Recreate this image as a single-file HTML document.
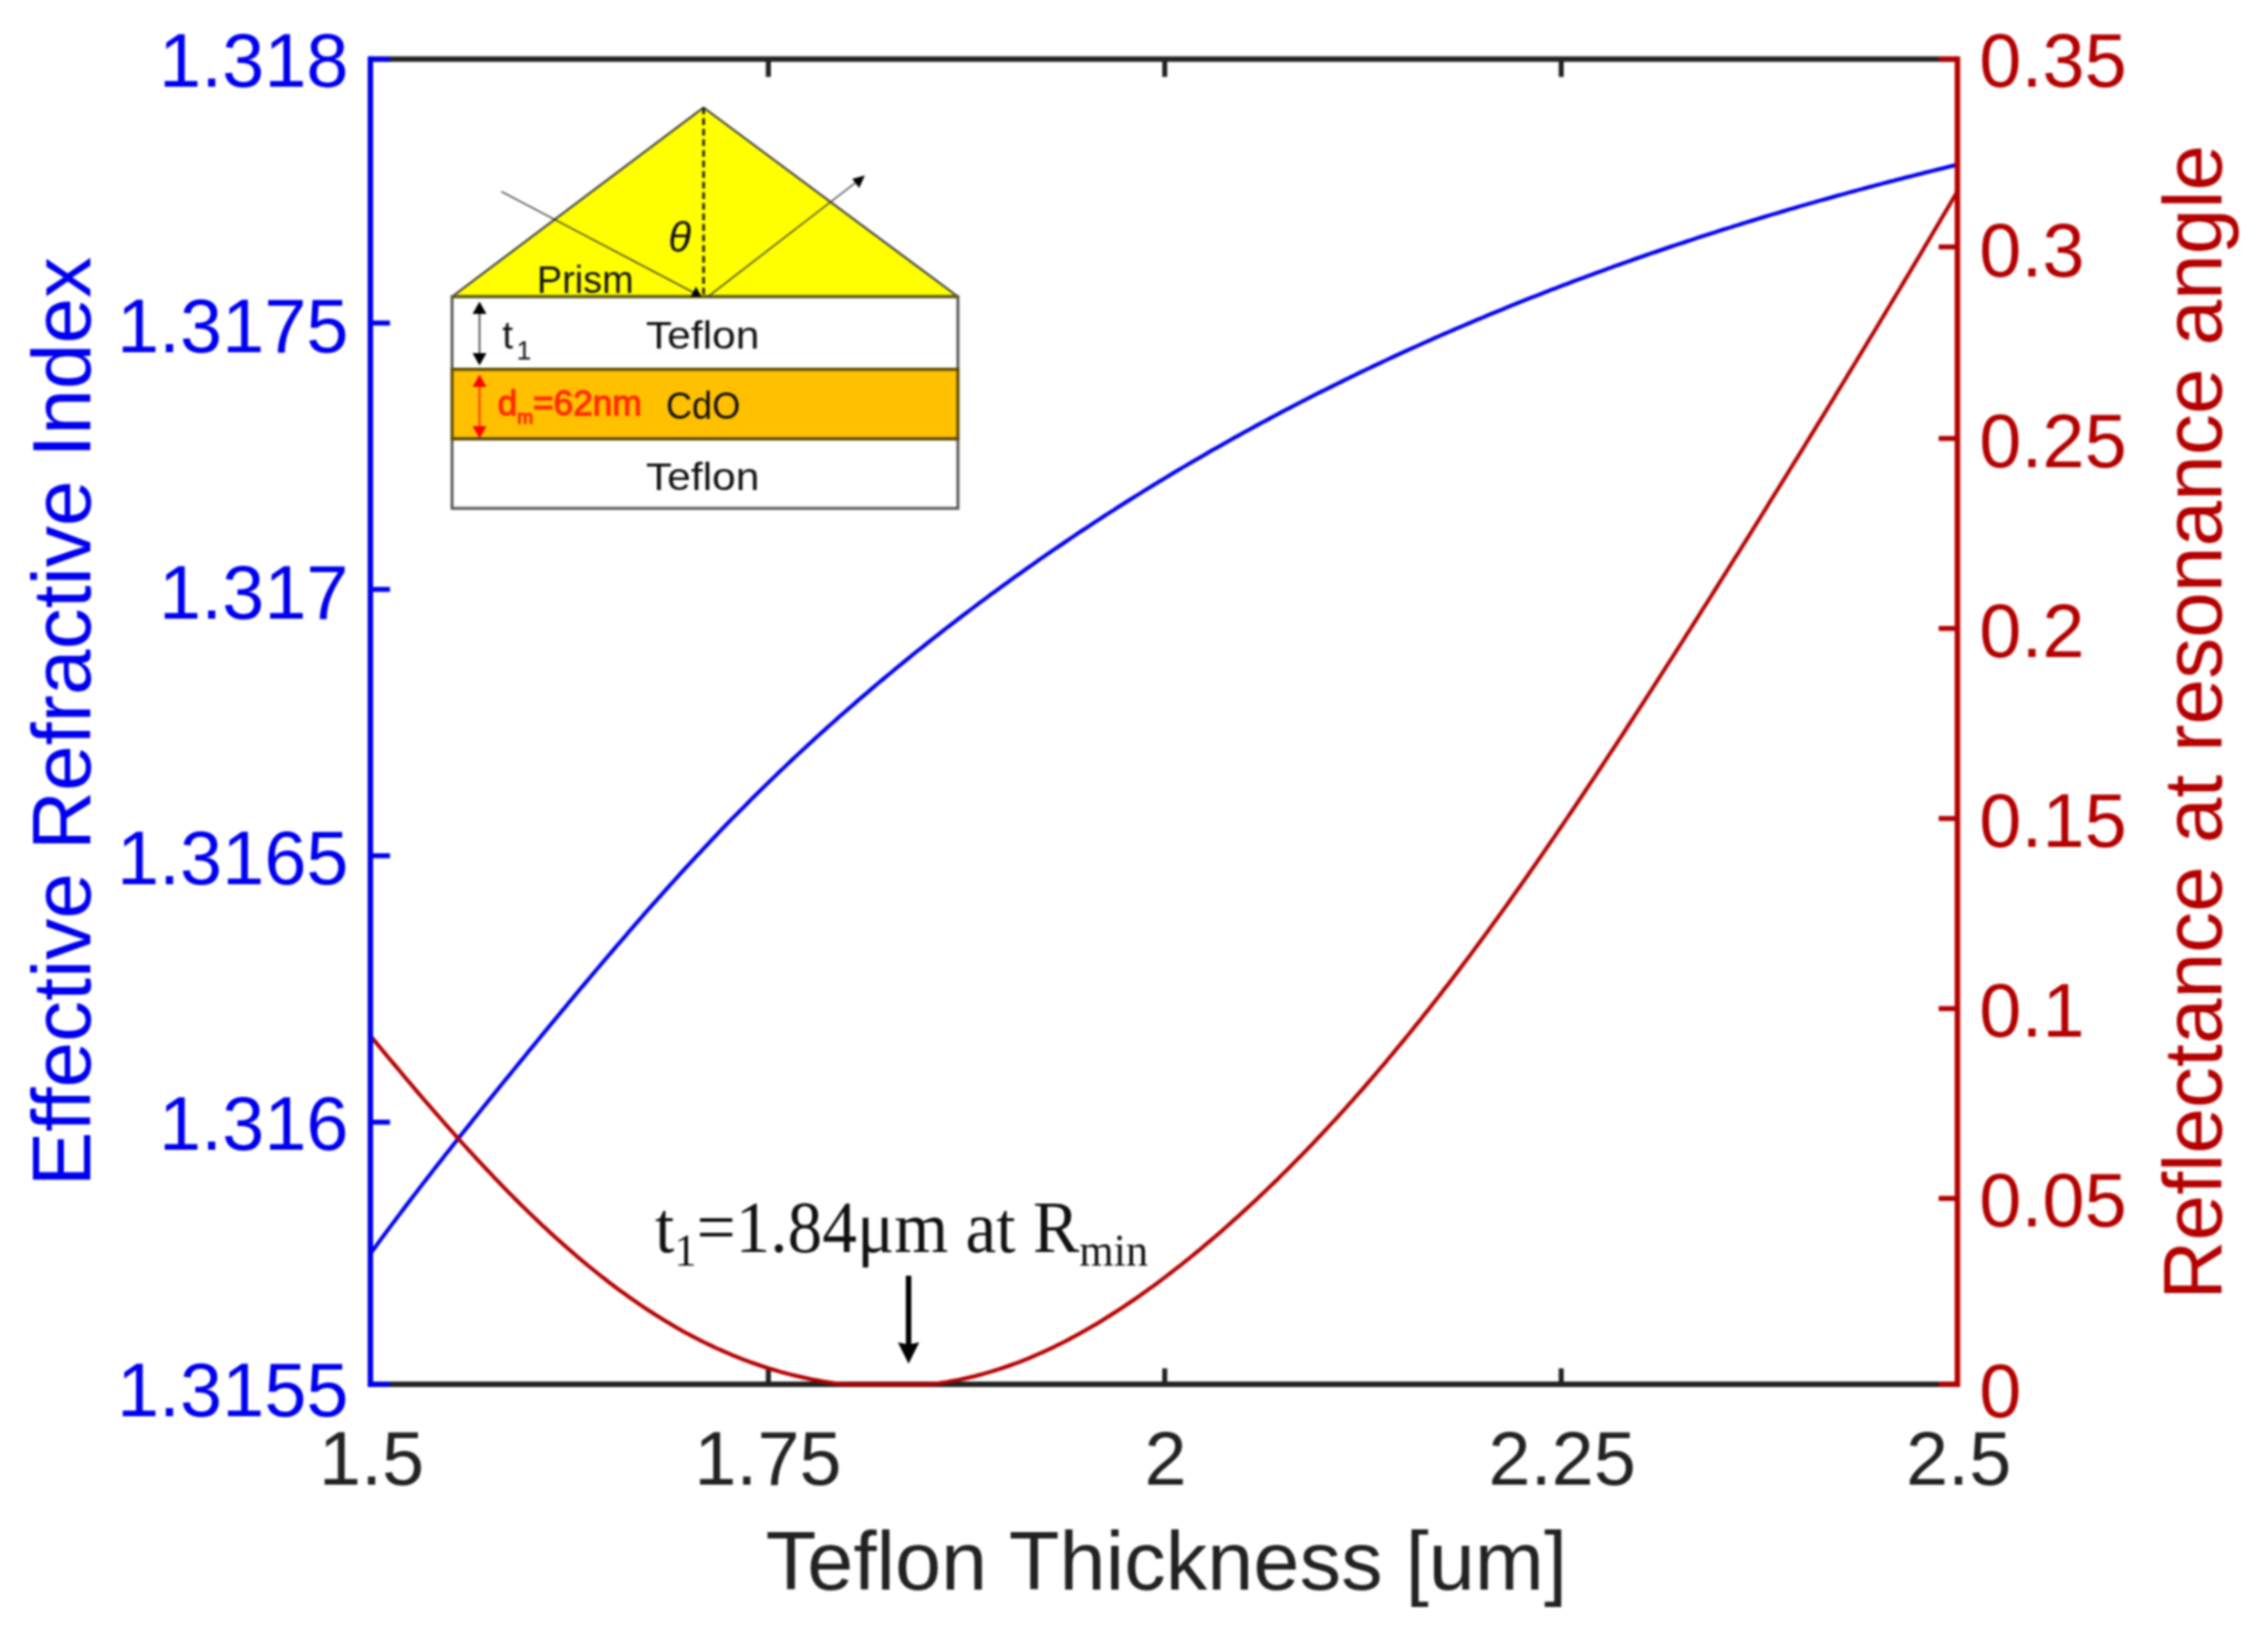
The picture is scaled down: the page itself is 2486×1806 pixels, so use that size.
<!DOCTYPE html><html><head><meta charset="utf-8"><title>Teflon thickness plot</title>
<style>html,body{margin:0;padding:0;background:#fff}svg{display:block;filter:blur(0.8px)}text{font-family:"Liberation Sans",sans-serif}.ser{font-family:"Liberation Serif",serif}</style></head><body>
<svg width="2486" height="1806" viewBox="0 0 2486 1806">
<rect width="2486" height="1806" fill="#fff"/>
<g stroke="#222222" stroke-width="6" fill="none">
<line x1="406.0" y1="64.8" x2="2145.6" y2="64.8"/><line x1="406.0" y1="1517.0" x2="2145.6" y2="1517.0"/>
<line x1="842.2" y1="64.8" x2="842.2" y2="84.3" stroke-width="5.5"/><line x1="842.2" y1="1517.0" x2="842.2" y2="1499.5" stroke-width="5.5"/>
<line x1="1276.7" y1="64.8" x2="1276.7" y2="84.3" stroke-width="5.5"/><line x1="1276.7" y1="1517.0" x2="1276.7" y2="1499.5" stroke-width="5.5"/>
<line x1="1711.3" y1="64.8" x2="1711.3" y2="84.3" stroke-width="5.5"/><line x1="1711.3" y1="1517.0" x2="1711.3" y2="1499.5" stroke-width="5.5"/>
</g>
<path d="M406.0,1374.1 L410.4,1368.1 L414.7,1362.1 L419.1,1356.1 L423.4,1350.2 L427.8,1344.3 L432.2,1338.5 L436.5,1332.7 L440.9,1326.9 L445.2,1321.1 L449.6,1315.4 L453.9,1309.7 L458.3,1304.0 L462.7,1298.3 L467.0,1292.7 L471.4,1287.1 L475.7,1281.5 L480.1,1275.9 L484.5,1270.3 L488.8,1264.8 L493.2,1259.3 L497.5,1253.8 L501.9,1248.3 L506.2,1242.8 L510.6,1237.3 L515.0,1231.8 L519.3,1226.4 L523.7,1221.0 L528.0,1215.5 L532.4,1210.1 L536.8,1204.7 L541.1,1199.3 L545.5,1193.9 L549.8,1188.5 L554.2,1183.2 L558.6,1177.8 L562.9,1172.5 L567.3,1167.1 L571.6,1161.8 L576.0,1156.5 L580.3,1151.1 L584.7,1145.8 L589.1,1140.5 L593.4,1135.2 L597.8,1129.9 L602.1,1124.6 L606.5,1119.4 L610.9,1114.1 L615.2,1108.8 L619.6,1103.6 L623.9,1098.4 L628.3,1093.1 L632.6,1087.9 L637.0,1082.7 L641.4,1077.5 L645.7,1072.3 L650.1,1067.2 L654.4,1062.0 L658.8,1056.9 L663.2,1051.7 L667.5,1046.6 L671.9,1041.5 L676.2,1036.4 L680.6,1031.3 L685.0,1026.3 L689.3,1021.2 L693.7,1016.2 L698.0,1011.2 L702.4,1006.2 L706.7,1001.2 L711.1,996.2 L715.5,991.3 L719.8,986.4 L724.2,981.5 L728.5,976.6 L732.9,971.7 L737.3,966.9 L741.6,962.1 L746.0,957.3 L750.3,952.5 L754.7,947.8 L759.1,943.0 L763.4,938.3 L767.8,933.7 L772.1,929.0 L776.5,924.4 L780.8,919.8 L785.2,915.2 L789.6,910.6 L793.9,906.1 L798.3,901.6 L802.6,897.1 L807.0,892.7 L811.4,888.3 L815.7,883.9 L820.1,879.5 L824.4,875.1 L828.8,870.8 L833.1,866.5 L837.5,862.2 L841.9,858.0 L846.2,853.7 L850.6,849.5 L854.9,845.3 L859.3,841.2 L863.7,837.0 L868.0,832.9 L872.4,828.8 L876.7,824.8 L881.1,820.7 L885.5,816.7 L889.8,812.7 L894.2,808.7 L898.5,804.7 L902.9,800.8 L907.2,796.9 L911.6,793.0 L916.0,789.1 L920.3,785.2 L924.7,781.4 L929.0,777.6 L933.4,773.8 L937.8,770.0 L942.1,766.2 L946.5,762.5 L950.8,758.8 L955.2,755.0 L959.5,751.4 L963.9,747.7 L968.3,744.0 L972.6,740.4 L977.0,736.8 L981.3,733.2 L985.7,729.6 L990.1,726.0 L994.4,722.5 L998.8,718.9 L1003.1,715.4 L1007.5,711.9 L1011.9,708.5 L1016.2,705.0 L1020.6,701.5 L1024.9,698.1 L1029.3,694.7 L1033.6,691.3 L1038.0,687.9 L1042.4,684.5 L1046.7,681.2 L1051.1,677.8 L1055.4,674.5 L1059.8,671.2 L1064.2,667.9 L1068.5,664.6 L1072.9,661.3 L1077.2,658.1 L1081.6,654.9 L1085.9,651.6 L1090.3,648.4 L1094.7,645.2 L1099.0,642.1 L1103.4,638.9 L1107.7,635.8 L1112.1,632.6 L1116.5,629.5 L1120.8,626.4 L1125.2,623.3 L1129.5,620.2 L1133.9,617.2 L1138.3,614.1 L1142.6,611.1 L1147.0,608.0 L1151.3,605.0 L1155.7,602.0 L1160.0,599.1 L1164.4,596.1 L1168.8,593.1 L1173.1,590.2 L1177.5,587.3 L1181.8,584.3 L1186.2,581.4 L1190.6,578.6 L1194.9,575.7 L1199.3,572.8 L1203.6,570.0 L1208.0,567.1 L1212.3,564.3 L1216.7,561.5 L1221.1,558.7 L1225.4,555.9 L1229.8,553.1 L1234.1,550.4 L1238.5,547.6 L1242.9,544.9 L1247.2,542.2 L1251.6,539.5 L1255.9,536.8 L1260.3,534.1 L1264.7,531.4 L1269.0,528.7 L1273.4,526.1 L1277.7,523.5 L1282.1,520.8 L1286.4,518.2 L1290.8,515.6 L1295.2,513.0 L1299.5,510.5 L1303.9,507.9 L1308.2,505.3 L1312.6,502.8 L1317.0,500.3 L1321.3,497.8 L1325.7,495.2 L1330.0,492.7 L1334.4,490.3 L1338.8,487.8 L1343.1,485.3 L1347.5,482.9 L1351.8,480.4 L1356.2,478.0 L1360.5,475.6 L1364.9,473.2 L1369.3,470.8 L1373.6,468.4 L1378.0,466.0 L1382.3,463.7 L1386.7,461.3 L1391.1,459.0 L1395.4,456.7 L1399.8,454.3 L1404.1,452.0 L1408.5,449.7 L1412.8,447.5 L1417.2,445.2 L1421.6,442.9 L1425.9,440.7 L1430.3,438.4 L1434.6,436.2 L1439.0,433.9 L1443.4,431.7 L1447.7,429.5 L1452.1,427.3 L1456.4,425.2 L1460.8,423.0 L1465.2,420.8 L1469.5,418.7 L1473.9,416.5 L1478.2,414.4 L1482.6,412.3 L1486.9,410.1 L1491.3,408.0 L1495.7,405.9 L1500.0,403.9 L1504.4,401.8 L1508.7,399.7 L1513.1,397.7 L1517.5,395.6 L1521.8,393.6 L1526.2,391.5 L1530.5,389.5 L1534.9,387.5 L1539.2,385.5 L1543.6,383.5 L1548.0,381.5 L1552.3,379.6 L1556.7,377.6 L1561.0,375.6 L1565.4,373.7 L1569.8,371.8 L1574.1,369.8 L1578.5,367.9 L1582.8,366.0 L1587.2,364.1 L1591.6,362.2 L1595.9,360.3 L1600.3,358.5 L1604.6,356.6 L1609.0,354.7 L1613.3,352.9 L1617.7,351.0 L1622.1,349.2 L1626.4,347.4 L1630.8,345.6 L1635.1,343.8 L1639.5,342.0 L1643.9,340.2 L1648.2,338.4 L1652.6,336.6 L1656.9,334.8 L1661.3,333.1 L1665.6,331.3 L1670.0,329.6 L1674.4,327.8 L1678.7,326.1 L1683.1,324.4 L1687.4,322.7 L1691.8,321.0 L1696.2,319.3 L1700.5,317.6 L1704.9,315.9 L1709.2,314.3 L1713.6,312.6 L1718.0,310.9 L1722.3,309.3 L1726.7,307.6 L1731.0,306.0 L1735.4,304.4 L1739.7,302.8 L1744.1,301.2 L1748.5,299.5 L1752.8,298.0 L1757.2,296.4 L1761.5,294.8 L1765.9,293.2 L1770.3,291.6 L1774.6,290.1 L1779.0,288.5 L1783.3,287.0 L1787.7,285.4 L1792.0,283.9 L1796.4,282.4 L1800.8,280.9 L1805.1,279.4 L1809.5,277.8 L1813.8,276.4 L1818.2,274.9 L1822.6,273.4 L1826.9,271.9 L1831.3,270.4 L1835.6,269.0 L1840.0,267.5 L1844.4,266.1 L1848.7,264.6 L1853.1,263.2 L1857.4,261.8 L1861.8,260.3 L1866.1,258.9 L1870.5,257.5 L1874.9,256.1 L1879.2,254.7 L1883.6,253.3 L1887.9,251.9 L1892.3,250.5 L1896.7,249.2 L1901.0,247.8 L1905.4,246.5 L1909.7,245.1 L1914.1,243.8 L1918.5,242.4 L1922.8,241.1 L1927.2,239.7 L1931.5,238.4 L1935.9,237.1 L1940.2,235.8 L1944.6,234.5 L1949.0,233.2 L1953.3,231.9 L1957.7,230.6 L1962.0,229.3 L1966.4,228.1 L1970.8,226.8 L1975.1,225.5 L1979.5,224.3 L1983.8,223.0 L1988.2,221.8 L1992.5,220.5 L1996.9,219.3 L2001.3,218.1 L2005.6,216.9 L2010.0,215.6 L2014.3,214.4 L2018.7,213.2 L2023.1,212.0 L2027.4,210.8 L2031.8,209.6 L2036.1,208.5 L2040.5,207.3 L2044.9,206.1 L2049.2,204.9 L2053.6,203.8 L2057.9,202.6 L2062.3,201.5 L2066.6,200.3 L2071.0,199.2 L2075.4,198.1 L2079.7,196.9 L2084.1,195.8 L2088.4,194.7 L2092.8,193.6 L2097.2,192.5 L2101.5,191.4 L2105.9,190.3 L2110.2,189.2 L2114.6,188.1 L2118.9,187.0 L2123.3,185.9 L2127.7,184.8 L2132.0,183.8 L2136.4,182.7 L2140.7,181.7 L2145.1,180.6" fill="none" stroke="#0000f0" stroke-width="4.3" stroke-linejoin="round"/>
<path d="M406.0,1135.1 L410.4,1140.4 L414.7,1145.6 L419.1,1150.9 L423.4,1156.1 L427.8,1161.3 L432.2,1166.5 L436.5,1171.7 L440.9,1176.9 L445.2,1182.1 L449.6,1187.2 L453.9,1192.4 L458.3,1197.5 L462.7,1202.6 L467.0,1207.6 L471.4,1212.7 L475.7,1217.7 L480.1,1222.7 L484.5,1227.7 L488.8,1232.6 L493.2,1237.5 L497.5,1242.4 L501.9,1247.3 L506.2,1252.1 L510.6,1256.9 L515.0,1261.7 L519.3,1266.4 L523.7,1271.2 L528.0,1275.8 L532.4,1280.5 L536.8,1285.1 L541.1,1289.7 L545.5,1294.2 L549.8,1298.7 L554.2,1303.2 L558.6,1307.7 L562.9,1312.1 L567.3,1316.4 L571.6,1320.7 L576.0,1325.0 L580.3,1329.3 L584.7,1333.5 L589.1,1337.6 L593.4,1341.8 L597.8,1345.8 L602.1,1349.9 L606.5,1353.9 L610.9,1357.8 L615.2,1361.7 L619.6,1365.6 L623.9,1369.4 L628.3,1373.2 L632.6,1377.0 L637.0,1380.6 L641.4,1384.3 L645.7,1387.9 L650.1,1391.4 L654.4,1394.9 L658.8,1398.4 L663.2,1401.8 L667.5,1405.2 L671.9,1408.5 L676.2,1411.7 L680.6,1415.0 L685.0,1418.1 L689.3,1421.2 L693.7,1424.3 L698.0,1427.3 L702.4,1430.3 L706.7,1433.2 L711.1,1436.1 L715.5,1438.9 L719.8,1441.7 L724.2,1444.4 L728.5,1447.1 L732.9,1449.7 L737.3,1452.3 L741.6,1454.8 L746.0,1457.3 L750.3,1459.8 L754.7,1462.1 L759.1,1464.5 L763.4,1466.7 L767.8,1469.0 L772.1,1471.1 L776.5,1473.3 L780.8,1475.3 L785.2,1477.4 L789.6,1479.3 L793.9,1481.3 L798.3,1483.1 L802.6,1485.0 L807.0,1486.8 L811.4,1488.5 L815.7,1490.2 L820.1,1491.8 L824.4,1493.4 L828.8,1494.9 L833.1,1496.4 L837.5,1497.9 L841.9,1499.3 L846.2,1500.6 L850.6,1501.9 L854.9,1503.2 L859.3,1504.4 L863.7,1505.5 L868.0,1506.7 L872.4,1507.7 L876.7,1508.7 L881.1,1509.7 L885.5,1510.7 L889.8,1511.6 L894.2,1512.4 L898.5,1513.2 L902.9,1514.0 L907.2,1514.7 L911.6,1515.3 L916.0,1516.0 L920.3,1516.5 L924.7,1517.0 L929.0,1517.0 L933.4,1517.0 L937.8,1517.0 L942.1,1517.0 L946.5,1517.0 L950.8,1517.0 L955.2,1517.0 L959.5,1517.0 L963.9,1517.0 L968.3,1517.0 L972.6,1517.0 L977.0,1517.0 L981.3,1517.0 L985.7,1517.0 L990.1,1517.0 L994.4,1517.0 L998.8,1517.0 L1003.1,1517.0 L1007.5,1517.0 L1011.9,1517.0 L1016.2,1517.0 L1020.6,1517.0 L1024.9,1516.5 L1029.3,1515.8 L1033.6,1515.2 L1038.0,1514.5 L1042.4,1513.7 L1046.7,1512.9 L1051.1,1512.0 L1055.4,1511.1 L1059.8,1510.1 L1064.2,1509.1 L1068.5,1508.1 L1072.9,1506.9 L1077.2,1505.8 L1081.6,1504.5 L1085.9,1503.3 L1090.3,1501.9 L1094.7,1500.5 L1099.0,1499.1 L1103.4,1497.6 L1107.7,1496.1 L1112.1,1494.5 L1116.5,1492.9 L1120.8,1491.2 L1125.2,1489.4 L1129.5,1487.7 L1133.9,1485.8 L1138.3,1483.9 L1142.6,1482.0 L1147.0,1480.0 L1151.3,1478.0 L1155.7,1475.9 L1160.0,1473.7 L1164.4,1471.6 L1168.8,1469.3 L1173.1,1467.0 L1177.5,1464.7 L1181.8,1462.3 L1186.2,1459.9 L1190.6,1457.4 L1194.9,1454.9 L1199.3,1452.4 L1203.6,1449.8 L1208.0,1447.1 L1212.3,1444.4 L1216.7,1441.7 L1221.1,1438.9 L1225.4,1436.1 L1229.8,1433.2 L1234.1,1430.3 L1238.5,1427.4 L1242.9,1424.4 L1247.2,1421.4 L1251.6,1418.3 L1255.9,1415.2 L1260.3,1412.1 L1264.7,1408.9 L1269.0,1405.7 L1273.4,1402.4 L1277.7,1399.1 L1282.1,1395.8 L1286.4,1392.4 L1290.8,1389.0 L1295.2,1385.6 L1299.5,1382.1 L1303.9,1378.6 L1308.2,1375.1 L1312.6,1371.5 L1317.0,1367.9 L1321.3,1364.2 L1325.7,1360.5 L1330.0,1356.8 L1334.4,1353.1 L1338.8,1349.3 L1343.1,1345.5 L1347.5,1341.6 L1351.8,1337.7 L1356.2,1333.8 L1360.5,1329.9 L1364.9,1325.9 L1369.3,1321.9 L1373.6,1317.8 L1378.0,1313.8 L1382.3,1309.6 L1386.7,1305.5 L1391.1,1301.3 L1395.4,1297.1 L1399.8,1292.9 L1404.1,1288.6 L1408.5,1284.3 L1412.8,1279.9 L1417.2,1275.5 L1421.6,1271.1 L1425.9,1266.7 L1430.3,1262.2 L1434.6,1257.7 L1439.0,1253.2 L1443.4,1248.6 L1447.7,1244.0 L1452.1,1239.3 L1456.4,1234.6 L1460.8,1229.9 L1465.2,1225.2 L1469.5,1220.4 L1473.9,1215.6 L1478.2,1210.7 L1482.6,1205.9 L1486.9,1200.9 L1491.3,1196.0 L1495.7,1191.0 L1500.0,1186.0 L1504.4,1180.9 L1508.7,1175.9 L1513.1,1170.7 L1517.5,1165.6 L1521.8,1160.4 L1526.2,1155.2 L1530.5,1149.9 L1534.9,1144.7 L1539.2,1139.3 L1543.6,1134.0 L1548.0,1128.6 L1552.3,1123.2 L1556.7,1117.8 L1561.0,1112.3 L1565.4,1106.8 L1569.8,1101.2 L1574.1,1095.7 L1578.5,1090.1 L1582.8,1084.4 L1587.2,1078.8 L1591.6,1073.1 L1595.9,1067.4 L1600.3,1061.6 L1604.6,1055.8 L1609.0,1050.0 L1613.3,1044.2 L1617.7,1038.3 L1622.1,1032.4 L1626.4,1026.5 L1630.8,1020.5 L1635.1,1014.6 L1639.5,1008.5 L1643.9,1002.5 L1648.2,996.5 L1652.6,990.4 L1656.9,984.2 L1661.3,978.1 L1665.6,971.9 L1670.0,965.8 L1674.4,959.5 L1678.7,953.3 L1683.1,947.0 L1687.4,940.8 L1691.8,934.4 L1696.2,928.1 L1700.5,921.8 L1704.9,915.4 L1709.2,909.0 L1713.6,902.6 L1718.0,896.1 L1722.3,889.7 L1726.7,883.2 L1731.0,876.7 L1735.4,870.2 L1739.7,863.7 L1744.1,857.1 L1748.5,850.6 L1752.8,844.0 L1757.2,837.4 L1761.5,830.8 L1765.9,824.1 L1770.3,817.5 L1774.6,810.8 L1779.0,804.2 L1783.3,797.5 L1787.7,790.8 L1792.0,784.1 L1796.4,777.3 L1800.8,770.6 L1805.1,763.8 L1809.5,757.1 L1813.8,750.3 L1818.2,743.5 L1822.6,736.7 L1826.9,729.9 L1831.3,723.1 L1835.6,716.3 L1840.0,709.4 L1844.4,702.6 L1848.7,695.7 L1853.1,688.9 L1857.4,682.0 L1861.8,675.1 L1866.1,668.2 L1870.5,661.3 L1874.9,654.4 L1879.2,647.5 L1883.6,640.5 L1887.9,633.6 L1892.3,626.6 L1896.7,619.7 L1901.0,612.7 L1905.4,605.8 L1909.7,598.8 L1914.1,591.8 L1918.5,584.8 L1922.8,577.8 L1927.2,570.8 L1931.5,563.8 L1935.9,556.8 L1940.2,549.7 L1944.6,542.7 L1949.0,535.7 L1953.3,528.6 L1957.7,521.6 L1962.0,514.5 L1966.4,507.4 L1970.8,500.4 L1975.1,493.3 L1979.5,486.2 L1983.8,479.1 L1988.2,472.0 L1992.5,464.9 L1996.9,457.8 L2001.3,450.6 L2005.6,443.5 L2010.0,436.4 L2014.3,429.2 L2018.7,422.0 L2023.1,414.9 L2027.4,407.7 L2031.8,400.5 L2036.1,393.3 L2040.5,386.1 L2044.9,378.9 L2049.2,371.7 L2053.6,364.5 L2057.9,357.3 L2062.3,350.0 L2066.6,342.8 L2071.0,335.5 L2075.4,328.2 L2079.7,321.0 L2084.1,313.7 L2088.4,306.4 L2092.8,299.1 L2097.2,291.7 L2101.5,284.4 L2105.9,277.1 L2110.2,269.7 L2114.6,262.4 L2118.9,255.0 L2123.3,247.6 L2127.7,240.2 L2132.0,232.8 L2136.4,225.4 L2140.7,218.0 L2145.1,210.5" fill="none" stroke="#b40000" stroke-width="4.3" stroke-linejoin="round"/>
<g stroke="#0000f0" stroke-width="6" fill="none" stroke-linecap="butt">
<line x1="406.0" y1="61.8" x2="406.0" y2="1520.0"/>
<line x1="406.0" y1="1517.0" x2="427.5" y2="1517.0" stroke-width="5.5"/>
<line x1="406.0" y1="1229.8" x2="427.5" y2="1229.8" stroke-width="5.5"/>
<line x1="406.0" y1="937.8" x2="427.5" y2="937.8" stroke-width="5.5"/>
<line x1="406.0" y1="645.9" x2="427.5" y2="645.9" stroke-width="5.5"/>
<line x1="406.0" y1="354.0" x2="427.5" y2="354.0" stroke-width="5.5"/>
<line x1="406.0" y1="64.8" x2="427.5" y2="64.8" stroke-width="5.5"/>
</g>
<g stroke="#b40000" stroke-width="6" fill="none">
<line x1="2145.6" y1="61.8" x2="2145.6" y2="1520.0"/>
<line x1="2145.6" y1="1517.0" x2="2125.0" y2="1517.0" stroke-width="5.5"/>
<line x1="2145.6" y1="1313.3" x2="2125.0" y2="1313.3" stroke-width="5.5"/>
<line x1="2145.6" y1="1105.3" x2="2125.0" y2="1105.3" stroke-width="5.5"/>
<line x1="2145.6" y1="897.0" x2="2125.0" y2="897.0" stroke-width="5.5"/>
<line x1="2145.6" y1="688.7" x2="2125.0" y2="688.7" stroke-width="5.5"/>
<line x1="2145.6" y1="480.5" x2="2125.0" y2="480.5" stroke-width="5.5"/>
<line x1="2145.6" y1="270.6" x2="2125.0" y2="270.6" stroke-width="5.5"/>
<line x1="2145.6" y1="64.8" x2="2125.0" y2="64.8" stroke-width="5.5"/>
</g>
<g font-size="83" fill="#0000f0" text-anchor="end">
<text transform="translate(382,1551.8) scale(1,1)">1.3155</text>
<text transform="translate(382,1260.4) scale(1,1)">1.316</text>
<text transform="translate(382,969.0) scale(1,1)">1.3165</text>
<text transform="translate(382,677.5) scale(1,1)">1.317</text>
<text transform="translate(382,386.1) scale(1,1)">1.3175</text>
<text transform="translate(382,94.7) scale(1,1)">1.318</text>
</g>
<g font-size="83" fill="#b40000" text-anchor="start">
<text transform="translate(2169.5,1552.6) scale(1,1)">0</text>
<text transform="translate(2169.5,1344.4) scale(1,1)">0.05</text>
<text transform="translate(2169.5,1136.2) scale(1,1)">0.1</text>
<text transform="translate(2169.5,928.0) scale(1,1)">0.15</text>
<text transform="translate(2169.5,719.8) scale(1,1)">0.2</text>
<text transform="translate(2169.5,511.6) scale(1,1)">0.25</text>
<text transform="translate(2169.5,303.4) scale(1,1)">0.3</text>
<text transform="translate(2169.5,95.2) scale(1,1)">0.35</text>
</g>
<g font-size="83" fill="#222222" text-anchor="middle">
<text transform="translate(407.2,1627.4) scale(1,1)">1.5</text>
<text transform="translate(841.7,1627.4) scale(1,1)">1.75</text>
<text transform="translate(1277.7,1627.4) scale(1,1)">2</text>
<text transform="translate(1712.3,1627.4) scale(1,1)">2.25</text>
<text transform="translate(2146.9,1627.4) scale(1,1)">2.5</text>
</g>
<text x="1278.5" y="1742.3" font-size="91" fill="#222222" text-anchor="middle">Teflon Thickness [um]</text>
<text transform="translate(99.3,790.8) rotate(-90)" font-size="90" fill="#0000f0" text-anchor="middle">Effective Refractive Index</text>
<text transform="translate(2435.3,791.5) rotate(-90)" font-size="90" fill="#b40000" text-anchor="middle">Reflectance at resonance angle</text>
<g id="inset">
<polygon points="495.5,325.1 771.2,117.9 1050,325.1" fill="#ffff00" stroke="#444" stroke-width="2.4" stroke-linejoin="round"/>
<rect x="495.5" y="325.1" width="554.5" height="79.6" fill="#fff" stroke="#5a5a5a" stroke-width="3.2"/>
<rect x="495.5" y="480.8" width="554.5" height="76.3" fill="#fff" stroke="#5a5a5a" stroke-width="3.2"/>
<rect x="495.5" y="404.7" width="554.5" height="76.1" fill="#ffc000" stroke="#5f4b00" stroke-width="3.4"/>
<line x1="495.5" y1="325.1" x2="1050" y2="325.1" stroke="#5b5b10" stroke-width="3"/>
<line x1="771.2" y1="118" x2="771.2" y2="325" stroke="#111" stroke-width="2.8" stroke-dasharray="7.3,4.3"/>
<line x1="549.5" y1="209.8" x2="768.8" y2="325.1" stroke="#333" stroke-width="1.4"/>
<polygon points="768.8,325.1 757,325 763,314" fill="#000"/>
<line x1="776" y1="325.1" x2="940" y2="198.5" stroke="#333" stroke-width="1.4"/>
<polygon points="948,192.3 934.2,196 941.8,206" fill="#000"/>
<line x1="525.6" y1="338" x2="525.6" y2="393" stroke="#444" stroke-width="1.8"/>
<polygon points="525.6,330.5 518,344 533.2,344" fill="#000"/><polygon points="525.6,400.5 518,387 533.2,387" fill="#000"/>
<line x1="525.6" y1="418" x2="525.6" y2="473" stroke="#ff2000" stroke-width="1.8"/>
<polygon points="525.6,410.5 518,424 533.2,424" fill="#ff0000"/><polygon points="525.6,480.5 518,467 533.2,467" fill="#ff0000"/>
<text x="745" y="275.5" font-size="46" font-style="italic" text-anchor="middle" fill="#111">θ</text>
<text x="588.5" y="321" font-size="43" fill="#111" textLength="106" lengthAdjust="spacingAndGlyphs">Prism</text>
<text x="708" y="382" font-size="43" fill="#111" textLength="124.5" lengthAdjust="spacingAndGlyphs">Teflon</text>
<text x="708" y="536.7" font-size="43" fill="#111" textLength="124.5" lengthAdjust="spacingAndGlyphs">Teflon</text>
<text x="730" y="459.3" font-size="43" fill="#111" textLength="81.5" lengthAdjust="spacingAndGlyphs">CdO</text>
<text x="550.4" y="382" font-size="43" fill="#111">t<tspan font-size="29" dx="4" dy="11.5">1</tspan></text>
<text x="545.5" y="455" font-size="39" fill="#ff2a00" stroke="#ff2a00" stroke-width="1.3" textLength="158" lengthAdjust="spacingAndGlyphs">d<tspan font-size="21" dy="8.5">m</tspan><tspan dy="-8.5">=62nm</tspan></text>
</g>
<text class="ser" transform="translate(718,1371.6) scale(0.951,1)" font-size="80" fill="#111">t<tspan font-size="51" dy="15">1</tspan><tspan dy="-15">=1.84μm at R</tspan><tspan font-size="51" dy="15">min</tspan></text>
<line x1="995.9" y1="1398" x2="995.9" y2="1476" stroke="#000" stroke-width="6"/>
<polygon points="995.9,1494.5 984.2,1471 995.9,1473.5 1007.6,1471" fill="#000"/>
</svg></body></html>
